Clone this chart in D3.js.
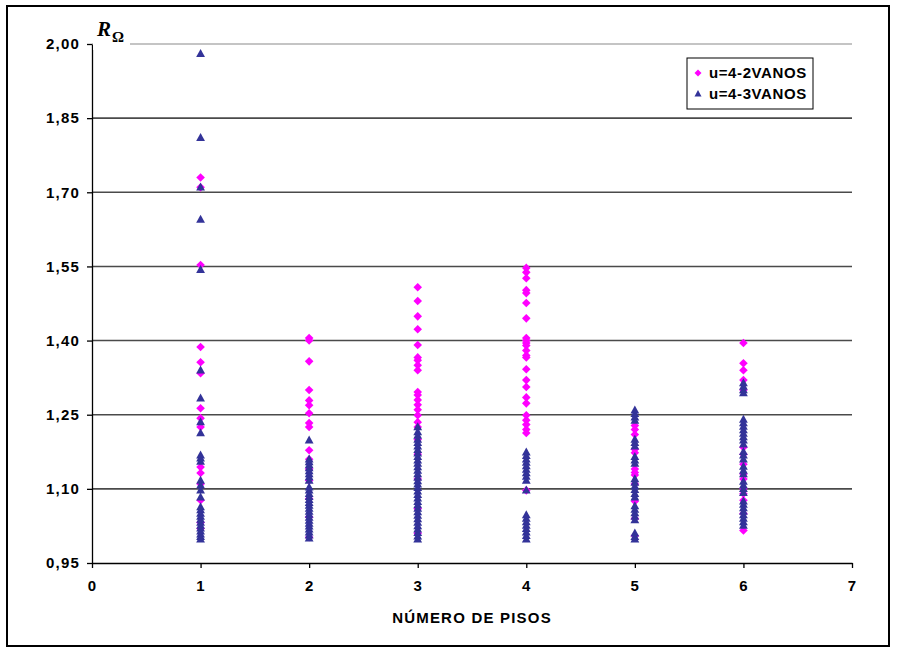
<!DOCTYPE html>
<html>
<head>
<meta charset="utf-8">
<script src="https://cdn.jsdelivr.net/npm/d3@7"></script>
<style>
  body { margin: 0; background: #fff; }
  .c-axis text { font-family: "Liberation Sans", Arial, sans-serif; font-weight: bold; font-size: 15px; letter-spacing: 1.2px; fill: #000; }
  .c-axis path, .c-axis line { stroke: #000; stroke-width: 1.3; }
</style>
</head>
<body>
<div id="chart"></div>
<script>
// number of floors (x position of every column)
const pisos = [1, 2, 3, 4, 5, 6];
const xTicks = [0, 1, 2, 3, 4, 5, 6, 7];
const yTicks = [0.95, 1.10, 1.25, 1.40, 1.55, 1.70, 1.85, 2.00];
const seriesNames = ['u=4-2VANOS', 'u=4-3VANOS'];

// R_Omega values per floor, series u=4-2VANOS
const vanos2 = [
  [1.73, 1.71, 1.553, 1.387, 1.356, 1.334, 1.263, 1.243, 1.225, 1.144, 1.132, 1.11, 1.077, 1.032, 1.02],
  [1.405, 1.40, 1.358, 1.30, 1.279, 1.269, 1.253, 1.233, 1.225, 1.178, 1.16, 1.14, 1.117, 1.08, 1.043, 1.002],
  [1.508, 1.48, 1.449, 1.423, 1.391, 1.366, 1.36, 1.35, 1.34, 1.296, 1.29, 1.28, 1.27, 1.26, 1.249, 1.235, 1.225, 1.20, 1.17, 1.12, 1.06, 1.01],
  [1.547, 1.538, 1.526, 1.502, 1.496, 1.476, 1.445, 1.405, 1.40, 1.395, 1.39, 1.38, 1.37, 1.366, 1.342, 1.32, 1.306, 1.285, 1.273, 1.249, 1.239, 1.23, 1.22, 1.213, 1.097],
  [1.228, 1.22, 1.21, 1.18, 1.173, 1.14, 1.133, 1.128, 1.11, 1.075, 1.04, 1.005],
  [1.395, 1.354, 1.34, 1.32, 1.30, 1.184, 1.17, 1.15, 1.13, 1.12, 1.10, 1.09, 1.077, 1.05, 1.016]
];

// R_Omega values per floor, series u=4-3VANOS
const vanos3 = [
  [1.98, 1.81, 1.71, 1.645, 1.543, 1.34, 1.283, 1.235, 1.213, 1.168, 1.162, 1.155, 1.117, 1.107, 1.097, 1.083,
    1.063, 1.057, 1.05, 1.044, 1.038, 1.032, 1.026, 1.02, 1.014, 1.008, 1.003, 0.998],
  [1.198, 1.16, 1.154, 1.148, 1.142, 1.136, 1.13, 1.124, 1.117, 1.103, 1.097, 1.09, 1.084, 1.078, 1.072, 1.066,
    1.06, 1.054, 1.048, 1.042, 1.036, 1.03, 1.024, 1.018, 1.012, 1.006, 1.0],
  [1.225, 1.215, 1.208, 1.2, 1.193, 1.186, 1.179, 1.172, 1.165, 1.158, 1.151, 1.144, 1.137, 1.13, 1.123, 1.116,
    1.109, 1.102, 1.095, 1.088, 1.081, 1.074, 1.067, 1.06, 1.053, 1.046, 1.039, 1.032, 1.025, 1.018, 1.011, 1.004, 0.998],
  [1.174, 1.167, 1.16, 1.153, 1.146, 1.139, 1.132, 1.125, 1.117, 1.097, 1.047, 1.04, 1.033, 1.026, 1.019, 1.012, 1.005, 0.998],
  [1.259, 1.252, 1.245, 1.238, 1.2, 1.193, 1.186, 1.165, 1.158, 1.151, 1.12, 1.113, 1.105, 1.098, 1.09, 1.083,
    1.065, 1.058, 1.051, 1.044, 1.037, 1.01, 1.003, 0.998],
  [1.314, 1.307, 1.30, 1.294, 1.24, 1.233, 1.226, 1.219, 1.212, 1.205, 1.198, 1.19, 1.175, 1.168, 1.16,
    1.145, 1.137, 1.13, 1.115, 1.107, 1.1, 1.092, 1.075, 1.068, 1.061, 1.054, 1.047, 1.04, 1.033, 1.026]
];

class PisosChart {
  constructor () {
    this.chartContainer = d3.select('#chart');
    this.chartWidth = 899;
    this.chartHeight = 652;
    this.left = 92;
    this.right = 852;
    this.top = 44;
    this.bottom = 563;
    this.diamond = 'M0,-4.3L4.3,0L0,4.3L-4.3,0Z';
    this.triangle = 'M0,-4.8L4.4,3.2L-4.4,3.2Z';
  }

  render () {
    this.createSvg();
    this.initScales();
    this.drawGrid();
    this.drawAxes();
    this.drawPoints();
    this.drawLegend();
  }

  createSvg () {
    this.chart = this.chartContainer
      .append('svg')
      .attr('width', this.chartWidth)
      .attr('height', this.chartHeight);

    this.chart.append('rect')
      .attr('x', 7).attr('y', 6)
      .attr('width', 882).attr('height', 640)
      .attr('fill', '#fff')
      .attr('stroke', '#000')
      .attr('stroke-width', 2);
  }

  initScales () {
    this.xScale = d3.scaleLinear().domain([0, 7]).range([this.left, this.right]);
    this.yScale = d3.scaleLinear().domain([0.95, 2.00]).range([this.bottom, this.top]);
  }

  drawGrid () {
    this.chart.append('g')
      .selectAll('line')
      .data(yTicks.slice(1))
      .enter()
      .append('line')
      .attr('x1', this.left)
      .attr('x2', this.right)
      .attr('y1', (d) => this.yScale(d))
      .attr('y2', (d) => this.yScale(d))
      .attr('stroke', (d) => d === 2.00 ? '#8a8a8a' : '#4a4a4a')
      .attr('stroke-width', (d) => d === 2.00 ? 1.2 : 1.6);
  }

  drawAxes () {
    let fmt = (d) => d.toFixed(2).replace('.', ',');
    let yAxis = d3.axisLeft(this.yScale).tickValues(yTicks).tickSize(5).tickSizeOuter(0).tickPadding(7).tickFormat(fmt);
    let xAxis = d3.axisBottom(this.xScale).tickValues(xTicks).tickSize(5).tickSizeOuter(0).tickPadding(12).tickFormat(d3.format('d'));

    this.chart.append('g')
      .attr('class', 'c-axis')
      .attr('transform', 'translate(' + this.left + ',0)')
      .call(yAxis);

    this.chart.append('g')
      .attr('class', 'c-axis')
      .attr('transform', 'translate(0,' + this.bottom + ')')
      .call(xAxis);

    this.chart.append('text')
      .attr('x', 472)
      .attr('y', 623)
      .attr('text-anchor', 'middle')
      .style('font-family', '"Liberation Sans", Arial, sans-serif')
      .style('font-weight', 'bold')
      .style('font-size', '15px')
      .style('letter-spacing', '1.2px')
      .text('NÚMERO DE PISOS');

    // R_Omega label sits over the top grid line
    this.chart.append('rect')
      .attr('x', this.left + 1).attr('y', 30)
      .attr('width', 37).attr('height', 20)
      .attr('fill', '#fff');

    let label = this.chart.append('text')
      .attr('x', 97)
      .attr('y', 36)
      .style('font-family', '"Liberation Serif", "Times New Roman", serif')
      .style('font-weight', 'bold');
    label.append('tspan')
      .style('font-style', 'italic')
      .style('font-size', '21px')
      .text('R');
    label.append('tspan')
      .attr('dy', 6)
      .attr('dx', 1)
      .style('font-size', '15px')
      .text('Ω');
  }

  getPointsData (values) {
    let points = [];
    for (let i = 0; i < pisos.length; i++) {
      for (let j = 0; j < values[i].length; j++) {
        points.push({piso: pisos[i], value: values[i][j]});
      }
    }
    return points;
  }

  drawPoints () {
    this.chart.append('g')
      .attr('class', 'c-vanos2')
      .selectAll('path')
      .data(this.getPointsData(vanos2))
      .enter()
      .append('path')
      .attr('d', this.diamond)
      .attr('transform', (d) => 'translate(' + this.xScale(d.piso) + ',' + this.yScale(d.value) + ')')
      .attr('fill', '#ff00ff');

    this.chart.append('g')
      .attr('class', 'c-vanos3')
      .selectAll('path')
      .data(this.getPointsData(vanos3))
      .enter()
      .append('path')
      .attr('d', this.triangle)
      .attr('transform', (d) => 'translate(' + this.xScale(d.piso) + ',' + this.yScale(d.value) + ')')
      .attr('fill', '#333399');
  }

  drawLegend () {
    let legend = this.chart.append('g')
      .attr('transform', 'translate(687,58)');

    legend.append('rect')
      .attr('width', 126)
      .attr('height', 51)
      .attr('fill', '#fff')
      .attr('stroke', '#000')
      .attr('stroke-width', 1);

    let rows = legend.selectAll('g')
      .data(seriesNames)
      .enter()
      .append('g')
      .attr('transform', (d, i) => 'translate(0,' + (15 + i * 21) + ')');

    rows.append('path')
      .attr('d', (d, i) => i === 0 ? 'M0,-3.5L3.5,0L0,3.5L-3.5,0Z' : 'M0,-4L3.5,2.5L-3.5,2.5Z')
      .attr('transform', 'translate(11,0)')
      .attr('fill', (d, i) => i === 0 ? '#ff00ff' : '#333399');

    rows.append('text')
      .attr('x', 22)
      .attr('y', 5)
      .style('font-family', '"Liberation Sans", Arial, sans-serif')
      .style('font-weight', 'bold')
      .style('font-size', '15px')
      .style('letter-spacing', '0.6px')
      .text((d) => d);
  }
}

new PisosChart().render();
</script>
</body>
</html>
